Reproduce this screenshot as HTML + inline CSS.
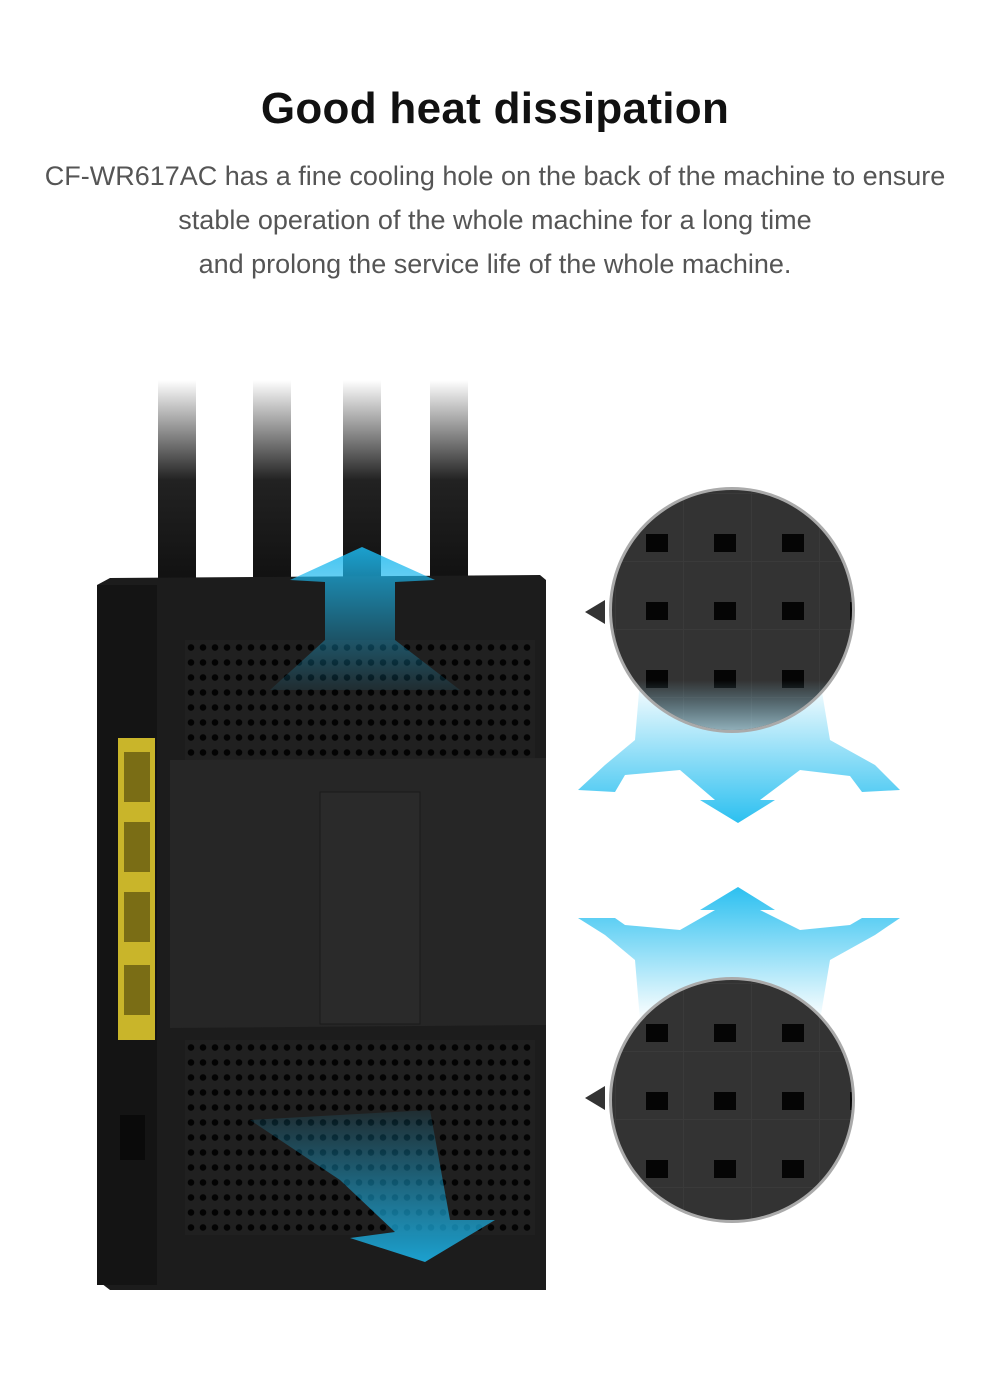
<!DOCTYPE html>
<html><head><meta charset="utf-8"><style>
body{margin:0;width:990px;height:1396px;background:#fff;position:relative;overflow:hidden;font-family:"Liberation Sans",sans-serif}
h1{position:absolute;top:84px;left:0;width:990px;text-align:center;margin:0;font-size:44px;font-weight:bold;color:#111;letter-spacing:0.3px}
.p{position:absolute;left:0;width:990px;text-align:center;font-size:27px;color:#555;font-weight:300}
.vent{position:absolute;background-color:#202020;background-image:radial-gradient(circle at 50% 50%,#030303 0 3px,transparent 3.5px);background-size:12px 15px}
</style></head><body>
<h1>Good heat dissipation</h1>
<div class="p" style="top:161px">CF-WR617AC has a fine cooling hole on the back of the machine to ensure</div>
<div class="p" style="top:205px">stable operation of the whole machine for a long time</div>
<div class="p" style="top:249px">and prolong the service life of the whole machine.</div>

<svg width="990" height="1396" style="position:absolute;left:0;top:0">
<defs>
<linearGradient id="ant" x1="0" y1="0" x2="0" y2="1"><stop offset="0" stop-color="#fff"/><stop offset="0.5" stop-color="#222"/><stop offset="1" stop-color="#111"/></linearGradient>
<linearGradient id="bl" x1="0" y1="0" x2="0" y2="1"><stop offset="0" stop-color="#1cb8ee"/><stop offset="1" stop-color="#1cb8ee" stop-opacity="0.1"/></linearGradient>
<linearGradient id="bl2" x1="0" y1="1" x2="0" y2="0"><stop offset="0" stop-color="#1cb8ee"/><stop offset="1" stop-color="#1cb8ee" stop-opacity="0.1"/></linearGradient>
<linearGradient id="cb" x1="0" y1="0" x2="0" y2="1"><stop offset="0" stop-color="#ffffff"/><stop offset="1" stop-color="#2cc0f0"/></linearGradient>
<linearGradient id="cb2" x1="0" y1="1" x2="0" y2="0"><stop offset="0" stop-color="#ffffff"/><stop offset="1" stop-color="#2cc0f0"/></linearGradient>
<linearGradient id="ov" x1="0" y1="0" x2="0" y2="1"><stop offset="0" stop-color="#8fdcf7" stop-opacity="0"/><stop offset="1" stop-color="#c8effc" stop-opacity="0.8"/></linearGradient>
<pattern id="grid" width="68" height="68" patternUnits="userSpaceOnUse" x="616" y="494"><rect width="68" height="68" fill="#3a3a3a"/><rect x="0" y="0" width="67" height="67" fill="#333"/><rect x="30" y="40" width="22" height="18" fill="#050505"/></pattern>
<pattern id="grid2" width="68" height="68" patternUnits="userSpaceOnUse" x="616" y="984"><rect width="68" height="68" fill="#3a3a3a"/><rect x="0" y="0" width="67" height="67" fill="#333"/><rect x="30" y="40" width="22" height="18" fill="#050505"/></pattern>
<clipPath id="c1"><circle cx="732" cy="610" r="120"/></clipPath>
<clipPath id="c2"><circle cx="732" cy="1100" r="120"/></clipPath>
</defs>
<rect x="158" y="380" width="38" height="200" fill="url(#ant)"/>
<rect x="253" y="380" width="38" height="200" fill="url(#ant)"/>
<rect x="343" y="380" width="38" height="200" fill="url(#ant)"/>
<rect x="430" y="380" width="38" height="200" fill="url(#ant)"/>
<rect x="300" y="1235" width="150" height="40" rx="10" fill="#111"/>
<path d="M97 585 L110 578 L540 575 L546 580 L546 1290 L110 1290 L97 1280 Z" fill="#1c1c1c"/>
<rect x="97" y="585" width="60" height="700" fill="#141414"/>
<rect x="118" y="738" width="37" height="302" fill="#c9b52a"/>
<rect x="124" y="752" width="26" height="50" fill="#7a6d15"/><rect x="124" y="822" width="26" height="50" fill="#7a6d15"/><rect x="124" y="892" width="26" height="50" fill="#7a6d15"/><rect x="124" y="965" width="26" height="50" fill="#7a6d15"/>
<rect x="120" y="1115" width="25" height="45" fill="#0a0a0a"/>
</svg>
<div class="vent" style="left:185px;top:640px;width:350px;height:140px"></div>
<div class="vent" style="left:185px;top:1040px;width:350px;height:195px"></div>
<svg width="990" height="1396" style="position:absolute;left:0;top:0">
<path d="M170 760 L546 758 L546 1025 L170 1028 Z" fill="#262626"/>
<rect x="320" y="792" width="100" height="232" fill="#2a2a2a" stroke="#1a1a1a"/>
<path d="M290 580 L362 547 L435 580 L395 582 L395 640 L460 690 L270 690 L325 640 L325 582 Z" fill="url(#bl)" opacity="0.85"/>
<path d="M250 1120 L430 1110 L450 1220 L495 1220 L425 1262 L350 1238 L395 1232 L340 1180 Z" fill="url(#bl2)" opacity="0.85"/>
<path d="M640 680 L820 680 L830 740 L875 765 L900 790 L862 792 L850 776 L800 770 L760 800 L775 800 L738 823 L700 800 L715 800 L680 770 L625 775 L615 792 L578 790 L605 765 L635 740 Z" fill="url(#cb)"/>
<circle cx="732" cy="610" r="123" fill="#aaa"/>
<rect x="600" y="480" width="270" height="270" fill="url(#grid)" clip-path="url(#c1)"/>
<rect x="600" y="680" width="270" height="60" fill="url(#ov)" clip-path="url(#c1)"/>
<polygon points="585,612 605,600 605,624" fill="#333"/>
<path d="M640 1020 L820 1020 L830 960 L875 935 L900 918 L862 918 L850 925 L800 930 L760 910 L775 910 L738 887 L700 910 L715 910 L680 930 L625 925 L615 918 L578 918 L605 935 L635 960 Z" fill="url(#cb2)"/>
<circle cx="732" cy="1100" r="123" fill="#aaa"/>
<rect x="600" y="970" width="270" height="270" fill="url(#grid2)" clip-path="url(#c2)"/>
<polygon points="585,1098 605,1086 605,1110" fill="#333"/>
</svg>
</body></html>
